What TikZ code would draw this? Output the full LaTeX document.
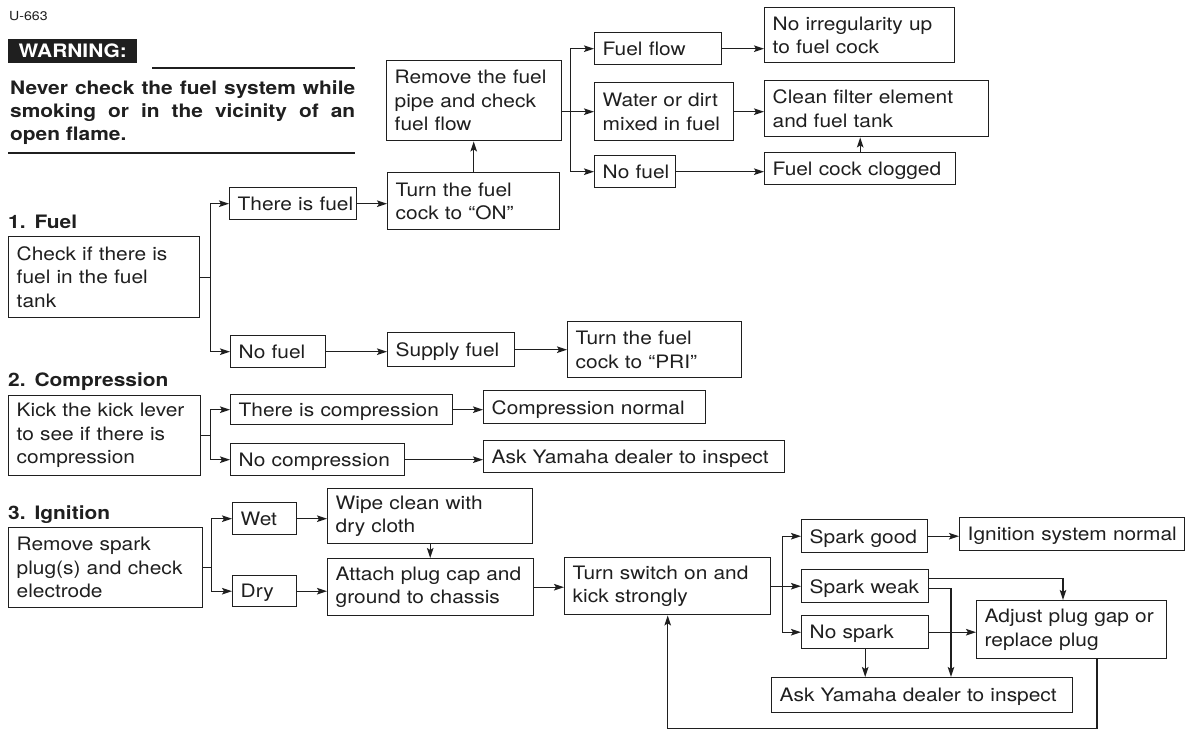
\documentclass[tikz,border=0pt]{standalone}
\usepackage{fontspec}
\setmainfont{TeX Gyre Heros}[FakeStretch=1.13]
\usetikzlibrary{arrows.meta,calc}
\definecolor{ink}{gray}{0.12}
\tikzset{
  chartbox/.style={draw=ink, line width=1.4pt, anchor=north west, inner xsep=8pt,
    inner ysep=0pt, align=left, text=ink,
    font=\fontsize{18.5}{23.5}\selectfont},
  oneline/.style={text depth=0pt},
  conn/.style={draw=ink, line width=1.4pt, -{Stealth[length=10pt,width=6.5pt,inset=2pt]}},
  heading/.style={anchor=base west, inner sep=0pt, text=ink,
    font=\fontsize{18.5}{24.5}\selectfont\bfseries},
  rule/.style={draw=ink, line width=1.6pt},
}
% one line of box text that never wraps
\newcommand\tx[1]{\mbox{#1}}
% \flowbox[extra options]{name}{left}{top}{width}{height}{text}
\newcommand\flowbox[7][]{%
  \pgfmathsetmacro\boxtw{#5-16}%
  \node[chartbox, #1, text width=\boxtw pt, minimum width=#5pt, minimum height=#6pt] (#2) at (#3,#4) {#7};}

\begin{document}
\begin{tikzpicture}[x=1pt,y=-1pt]
\fill[white] (0,0) rectangle (1186,731);
\useasboundingbox (0,0) rectangle (1186,731);

% ---- warning block ----
\node[anchor=base west, inner sep=0pt, text=ink, font=\fontsize{12.5}{14}\selectfont] (code) at (9,20.5) {U-663};
\node[anchor=north west, fill=ink, text=white, minimum width=129pt, minimum height=24pt,
  inner sep=0pt, font=\fontsize{18.5}{20}\selectfont\bfseries] (warn) at (8,39) {WARNING:};
\draw[rule] (152,68) -- (355,68);
\node[anchor=north west, inner sep=0pt, text width=345pt, align=justify, text=ink,
  font=\fontsize{18.5}{23}\selectfont\bfseries] (warntext) at (10,80.5)
  {Never check the fuel system while\linebreak smoking or in the vicinity of an\linebreak open flame.};
\draw[rule] (8,153) -- (355,153);

% ---- section headings ----
\node[heading] (h1) at (8,228) {1.\hspace{9pt}Fuel};
\node[heading] (h2) at (8,386) {2.\hspace{9pt}Compression};
\node[heading] (h3) at (8,519) {3.\hspace{9pt}Ignition};

% ---- 1. fuel ----
\flowbox{check}{8}{236}{191}{81}{\tx{Check if there is}\\\tx{fuel in the fuel}\\\tx{tank}}
\flowbox[oneline]{thereis}{229}{187}{127}{32}{\tx{There is fuel}}
\flowbox{cockon}{387}{172}{172}{57}{\tx{Turn the fuel}\\\tx{cock to “ON”}}
\flowbox{removepipe}{386}{60}{175}{80}{\tx{Remove the fuel}\\\tx{pipe and check}\\\tx{fuel flow}}
\flowbox[oneline]{fuelflow}{594}{32}{127}{32}{\tx{Fuel flow}}
\flowbox{water}{594}{82}{139}{58}{\tx{Water or dirt}\\\tx{mixed in fuel}}
\flowbox[oneline]{nofuelA}{594}{155}{81}{32}{\tx{No fuel}}
\flowbox{noirr}{764}{7}{190}{55}{\tx{No irregularity up}\\\tx{to fuel cock}}
\flowbox{cleanf}{764}{80}{224}{56}{\tx{Clean filter element}\\\tx{and fuel tank}}
\flowbox[oneline]{clogged}{764}{152}{191}{32}{\tx{Fuel cock clogged}}
\flowbox[oneline]{nofuelB}{230}{335}{95}{32}{\tx{No fuel}}
\flowbox[oneline]{supply}{387}{332}{127}{34}{\tx{Supply fuel}}
\flowbox{pri}{567}{321}{174}{56}{\tx{Turn the fuel}\\\tx{cock to “PRI”}}

% ---- 2. compression ----
\flowbox{kick}{8}{395}{192}{80}{\tx{Kick the kick lever}\\\tx{to see if there is}\\\tx{compression}}
\flowbox[oneline]{therecomp}{230}{394}{222}{30}{\tx{There is compression}}
\flowbox[oneline]{nocomp}{230}{443}{174}{32}{\tx{No compression}}
\flowbox[oneline]{compnormal}{483}{390}{222}{33}{\tx{Compression normal}}
\flowbox[oneline]{askA}{483}{440}{301}{32}{\tx{Ask Yamaha dealer to inspect}}

% ---- 3. ignition ----
\flowbox{spark}{8}{527}{194}{80}{\tx{Remove spark}\\\tx{plug(s) and check}\\\tx{electrode}}
\flowbox[oneline]{wet}{232}{502}{64}{32}{\tx{Wet}}
\flowbox[oneline]{dry}{232}{575}{64}{31}{\tx{Dry}}
\flowbox{wipe}{327}{488}{205}{55}{\tx{Wipe clean with}\\\tx{dry cloth}}
\flowbox{attach}{327}{558}{206}{57}{\tx{Attach plug cap and}\\\tx{ground to chassis}}
\flowbox{turnsw}{564}{557}{206}{57}{\tx{Turn switch on and}\\\tx{kick strongly}}
\flowbox[oneline]{sgood}{801}{519}{126}{33}{\tx{Spark good}}
\flowbox[oneline]{isnormal}{959}{517}{225}{33}{\tx{Ignition system normal}}
\flowbox[oneline]{sweak}{801}{569}{127}{33}{\tx{Spark weak}}
\flowbox[oneline]{nospark}{801}{615}{127}{33}{\tx{No spark}}
\flowbox{adjust}{976}{600}{190}{58}{\tx{Adjust plug gap or}\\\tx{replace plug}}
\flowbox[oneline]{askB}{771}{677}{301}{35}{\tx{Ask Yamaha dealer to inspect}}

% ---- connectors: fuel ----
\draw[conn] (check.east) -- ++(10,0) |- (thereis.west);
\draw[conn] (check.east) -- ++(10,0) |- (nofuelB.west);
\draw[conn] (thereis.east) -- (thereis.east -| cockon.west);
\draw[conn] (cockon.north) -- (cockon.north |- removepipe.south);
\draw[conn] (removepipe.east |- water.west) -- (water.west);
\draw[conn] ($(removepipe.east |- water.west)+(8,0)$) |- (fuelflow.west);
\draw[conn] ($(removepipe.east |- water.west)+(8,0)$) |- (nofuelA.west);
\draw[conn] (fuelflow.east) -- (fuelflow.east -| noirr.west);
\draw[conn] (water.east) -- (water.east -| cleanf.west);
\draw[conn] (nofuelA.east) -- (nofuelA.east -| clogged.west);
\draw[conn] (clogged.north) -- (clogged.north |- cleanf.south);
\draw[conn] (nofuelB.east) -- (nofuelB.east -| supply.west);
\draw[conn] (supply.east) -- (supply.east -| pri.west);

% ---- connectors: compression ----
\draw[conn] (kick.east) -- ++(9,0) |- (therecomp.west);
\draw[conn] (kick.east) -- ++(9,0) |- (nocomp.west);
\draw[conn] (therecomp.east) -- (therecomp.east -| compnormal.west);
\draw[conn] (nocomp.east) -- (nocomp.east -| askA.west);

% ---- connectors: ignition ----
\draw[conn] (spark.east) -- ++(8,0) |- (wet.west);
\draw[conn] (spark.east) -- ++(8,0) |- (dry.west);
\draw[conn] (wet.east) -- (wet.east -| wipe.west);
\draw[conn] (dry.east) -- (dry.east -| attach.west);
\draw[conn] (wipe.south) -- (wipe.south |- attach.north);
\draw[conn] (attach.east) -- (attach.east -| turnsw.west);
\draw[conn] (turnsw.east) -- ++(11,0) |- (sgood.west);
\draw[conn] (turnsw.east) -- ++(11,0) |- (sweak.west);
\draw[conn] (turnsw.east) -- ++(11,0) |- (nospark.west);
\draw[conn] (sgood.east) -- (sgood.east -| isnormal.west);
\draw[conn] ($(sweak.east)+(0,-8)$) -| ($(adjust.north west)+(87,0)$);
\draw[conn] ($(sweak.east)+(0,2)$) -| ($(askB.north west)+(180,0)$);
\draw[conn] (nospark.east) -- (nospark.east -| adjust.west);
\draw[conn] (nospark.south) -- (nospark.south |- askB.north);
\draw[conn] ($(adjust.south west)+(121,0)$) -- ++(0,69) -| (turnsw.south);
\end{tikzpicture}
\end{document}
